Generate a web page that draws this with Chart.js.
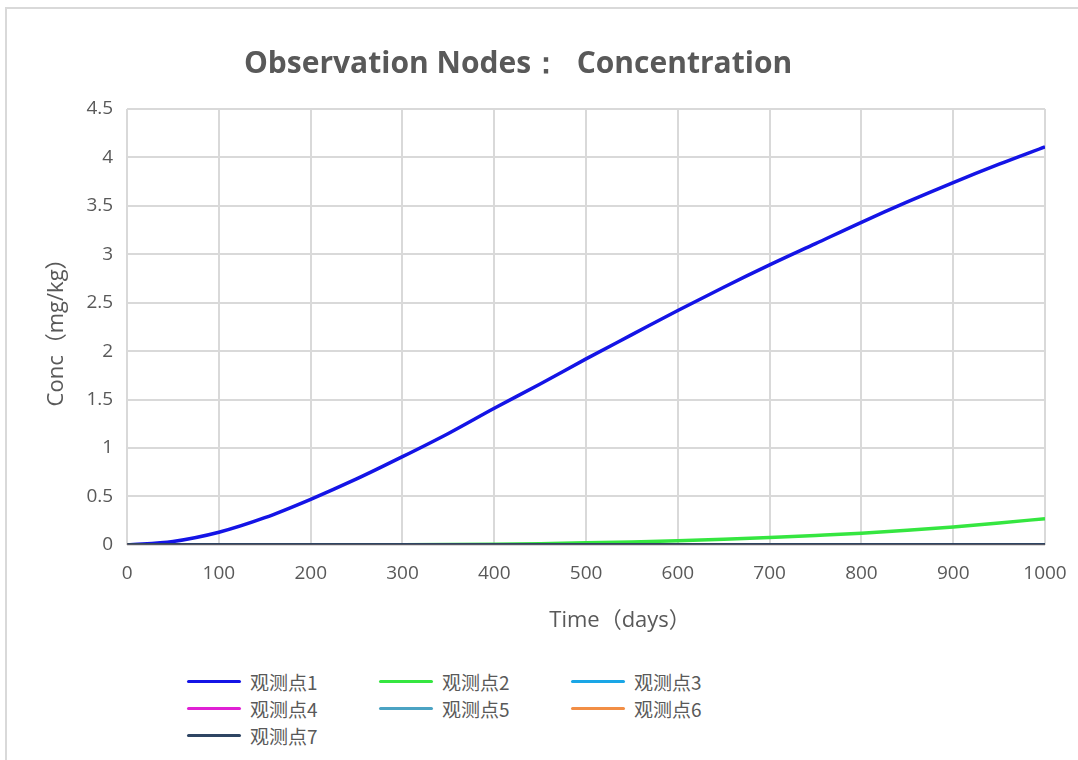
<!DOCTYPE html>
<html>
<head>
<meta charset="utf-8">
<script src="https://cdn.jsdelivr.net/npm/chart.js@4"></script>
<style>
  body { margin: 0; background: #fff; width: 1078px; height: 760px; overflow: hidden; }
  #frame { position: absolute; left: 5px; top: 7px; width: 1090px; height: 760px; border: 2px solid #d9d9d9; box-sizing: border-box; }
  #wrap { position: absolute; left: 0; top: 0; width: 1078px; height: 660px; }
  #legend { position: absolute; left: 187px; top: 669px; display: grid; grid-template-columns: 192px 192px 192px; row-gap: 3px;
            font-family: "Noto Sans CJK SC", "Noto Sans", sans-serif; font-size: 19px; color: #595959; }
  #legend div { display: flex; align-items: center; height: 24px; }
  #legend span.sw { display: inline-block; width: 54px; height: 3px; margin-right: 9px; border-radius: 2px; }
</style>
</head>
<body>
<div id="frame"></div>
<div id="wrap"><canvas id="myChart" width="1078" height="660"></canvas></div>
<div id="legend"></div>
<script>
var days = [0, 50, 100, 150, 200, 250, 300, 350, 400, 450, 500, 550, 600, 650, 700, 750, 800, 850, 900, 950, 1000];
var obs1 = [0, 0.035, 0.13, 0.28, 0.47, 0.68, 0.91, 1.15, 1.41, 1.66, 1.92, 2.17, 2.42, 2.66, 2.89, 3.11, 3.33, 3.54, 3.74, 3.93, 4.11];
var obs2 = [0, 0, 0, 0, 0, 0, 0, 0.002, 0.006, 0.012, 0.02, 0.03, 0.043, 0.058, 0.076, 0.097, 0.12, 0.15, 0.185, 0.225, 0.27];
var obs3 = [0, 0, 0, 0, 0, 0, 0, 0, 0, 0, 0, 0, 0, 0, 0, 0, 0, 0, 0, 0, 0];
var obs4 = [0, 0, 0, 0, 0, 0, 0, 0, 0, 0, 0, 0, 0, 0, 0, 0, 0, 0, 0, 0, 0];
var obs5 = [0, 0, 0, 0, 0, 0, 0, 0, 0, 0, 0, 0, 0, 0, 0, 0, 0, 0, 0, 0, 0];
var obs6 = [0, 0, 0, 0, 0, 0, 0, 0, 0, 0, 0, 0, 0, 0, 0, 0, 0, 0, 0, 0, 0];
var obs7 = [0, 0, 0, 0, 0, 0, 0, 0, 0, 0, 0, 0, 0, 0, 0, 0, 0, 0, 0, 0, 0];
var seriesNames = ['观测点1', '观测点2', '观测点3', '观测点4', '观测点5', '观测点6', '观测点7'];
var seriesColors = ['#1414e6', '#35e640', '#1aa6e6', '#e020d4', '#4ba3c3', '#f28e45', '#2e4563'];

var chartTitle = 'Observation Nodes：  Concentration';
var xTitle = 'Time（days）';

var allSeries = [obs1, obs2, obs3, obs4, obs5, obs6, obs7];
var datasets = [];
allSeries.forEach(function(vals, i) {
	datasets.push({
		label: seriesNames[i],
		data: days.map(function(d, j) { return { x: d, y: vals[j] }; }),
		borderColor: seriesColors[i],
		backgroundColor: seriesColors[i],
		borderWidth: 3.5,
		pointRadius: 0,
		cubicInterpolationMode: 'monotone',
		order: 7 - i
	});
});

var gray = '#595959';
var tickFont = { family: 'Open Sans', size: 19 };
var axisFont = { family: '"Open Sans", "Noto Sans CJK SC"', size: 22 };
var titleFont = { family: 'Open Sans', size: 30, weight: 'bold' };

// title and x axis title sit a bit off the plot centre in the original,
// so chart.js reserves their room (transparent) and this draws them shifted
var shiftedText = {
	id: 'shiftedText',
	afterDraw: function(chart) {
		var c = chart.ctx;
		var mid = (chart.chartArea.left + chart.chartArea.right) / 2;
		var tb = chart.titleBlock;
		var xs = chart.scales.x;
		c.save();
		c.fillStyle = gray;
		c.textAlign = 'center';
		c.textBaseline = 'middle';
		c.font = 'bold 30px "Open Sans"';
		c.fillText(chartTitle, mid - 68, tb.top + tb.height / 2 - 12);
		c.font = '22px "Open Sans", "Noto Sans CJK SC"';
		c.fillText(xTitle, mid + 34, xs.bottom - 13);
		c.restore();
	}
};

var ctx = document.getElementById('myChart').getContext('2d');
var myChart = new Chart(ctx, {
	type: 'line',
	data: { datasets: datasets },
	plugins: [shiftedText],
	options: {
		responsive: false,
		animation: false,
		layout: { padding: { left: 44, right: 33, top: 44, bottom: 26 } },
		plugins: {
			legend: { display: false },
			tooltip: { enabled: false },
			title: {
				display: true,
				text: chartTitle,
				color: 'rgba(0,0,0,0)',
				font: titleFont,
				padding: { top: 0, bottom: 29 }
			}
		},
		scales: {
			x: {
				type: 'linear',
				min: 0,
				max: 1000,
				ticks: { stepSize: 100, color: gray, font: tickFont, padding: 0,
					callback: function(v) { return String(v); } },
				grid: { color: '#d9d9d9', lineWidth: 2, drawTicks: true, tickLength: 17, tickColor: 'rgba(0,0,0,0)' },
				border: { display: false },
				title: { display: true, text: xTitle, color: 'rgba(0,0,0,0)', font: axisFont, padding: { top: 23, bottom: 0 } }
			},
			y: {
				min: 0,
				max: 4.5,
				ticks: { stepSize: 0.5, color: gray, font: tickFont, padding: 14,
					callback: function(v) { return String(v); } },
				grid: { color: '#d9d9d9', lineWidth: 2, drawTicks: false },
				border: { display: false },
				title: { display: true, text: 'Conc（mg/kg）', color: gray, font: axisFont, padding: { top: 0, bottom: 2 } }
			}
		}
	}
});

// legend in three columns like the original
var legend = document.getElementById('legend');
myChart.data.datasets.forEach(function(ds) {
	var item = document.createElement('div');
	item.innerHTML = '<span class="sw" style="background:' + ds.borderColor + '"></span>' + ds.label;
	legend.appendChild(item);
});
</script>
</body>
</html>
